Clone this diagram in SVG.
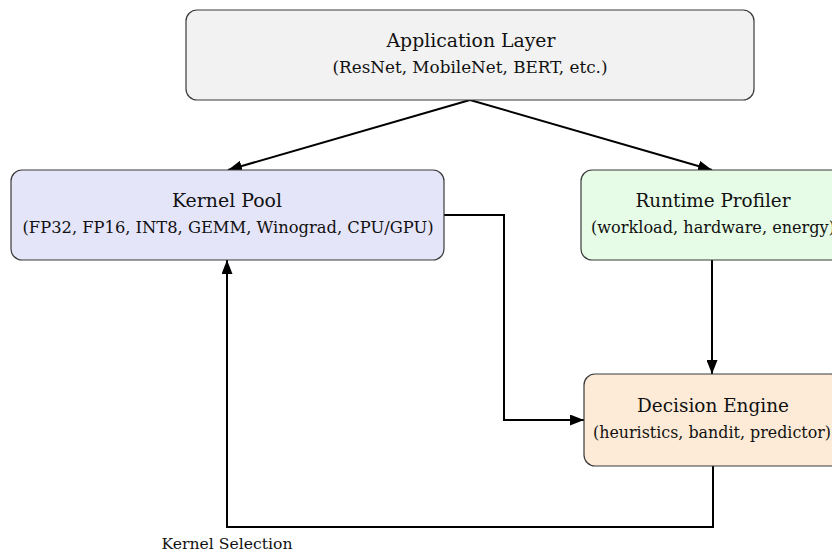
<svg xmlns="http://www.w3.org/2000/svg" width="832" height="552" viewBox="0 0 832 552">
<style>
.box{stroke:#3a3a3a;stroke-width:1.2}
.t{font-family:"DejaVu Serif","Liberation Serif",serif;font-size:19px;fill:#111;text-anchor:middle}
.s{font-family:"DejaVu Serif","Liberation Serif",serif;font-size:16.5px;fill:#111;text-anchor:middle}
.k{font-family:"DejaVu Serif","Liberation Serif",serif;font-size:14px;fill:#111;text-anchor:middle}
.e{fill:none;stroke:#000;stroke-width:2}
</style>
<defs>
<marker id="ah" viewBox="0 0 14 11" refX="14" refY="5.5" markerWidth="14" markerHeight="11" markerUnits="userSpaceOnUse" orient="auto">
<path d="M0,0 L14,5.5 L0,11 Z" fill="#000"/>
</marker>
</defs>
<rect width="832" height="552" fill="#fff"/>
<g id="edges">
<line class="e" x1="470" y1="100" x2="228" y2="170" marker-end="url(#ah)"/>
<line class="e" x1="470" y1="100" x2="712" y2="170" marker-end="url(#ah)"/>
<line class="e" x1="712" y1="260" x2="712" y2="374" marker-end="url(#ah)"/>
<polyline class="e" points="444,215 504,215 504,420 584,420" marker-end="url(#ah)"/>
<polyline class="e" points="713,466 713,527 227,527 227,260" marker-end="url(#ah)"/>
<text class="k" x="227" y="549" textLength="131" lengthAdjust="spacingAndGlyphs">Kernel Selection</text>
</g>
<g id="app">
<rect class="box" x="186" y="10" width="568" height="90" rx="11" fill="#f2f2f2"/>
<text class="t" x="471" y="47" textLength="169" lengthAdjust="spacingAndGlyphs">Application Layer</text>
<text class="s" x="470" y="73" textLength="275" lengthAdjust="spacingAndGlyphs">(ResNet, MobileNet, BERT, etc.)</text>
</g>
<g id="kernel">
<rect class="box" x="11" y="170" width="433" height="90" rx="11" fill="#e5e5fa"/>
<text class="t" x="227" y="207" textLength="110" lengthAdjust="spacingAndGlyphs">Kernel Pool</text>
<text class="s" x="228" y="233" textLength="411" lengthAdjust="spacingAndGlyphs">(FP32, FP16, INT8, GEMM, Winograd, CPU/GPU)</text>
</g>
<g id="profiler">
<rect class="box" x="581" y="170" width="264" height="90" rx="11" fill="#e6fce6"/>
<text class="t" x="713" y="207" textLength="155" lengthAdjust="spacingAndGlyphs">Runtime Profiler</text>
<text class="s" x="713" y="233" textLength="244" lengthAdjust="spacingAndGlyphs">(workload, hardware, energy)</text>
</g>
<g id="decision">
<rect class="box" x="584" y="374" width="258" height="92" rx="11" fill="#fdebd7"/>
<text class="t" x="713" y="412" textLength="152" lengthAdjust="spacingAndGlyphs">Decision Engine</text>
<text class="s" x="712" y="438" textLength="238" lengthAdjust="spacingAndGlyphs">(heuristics, bandit, predictor)</text>
</g>
</svg>
